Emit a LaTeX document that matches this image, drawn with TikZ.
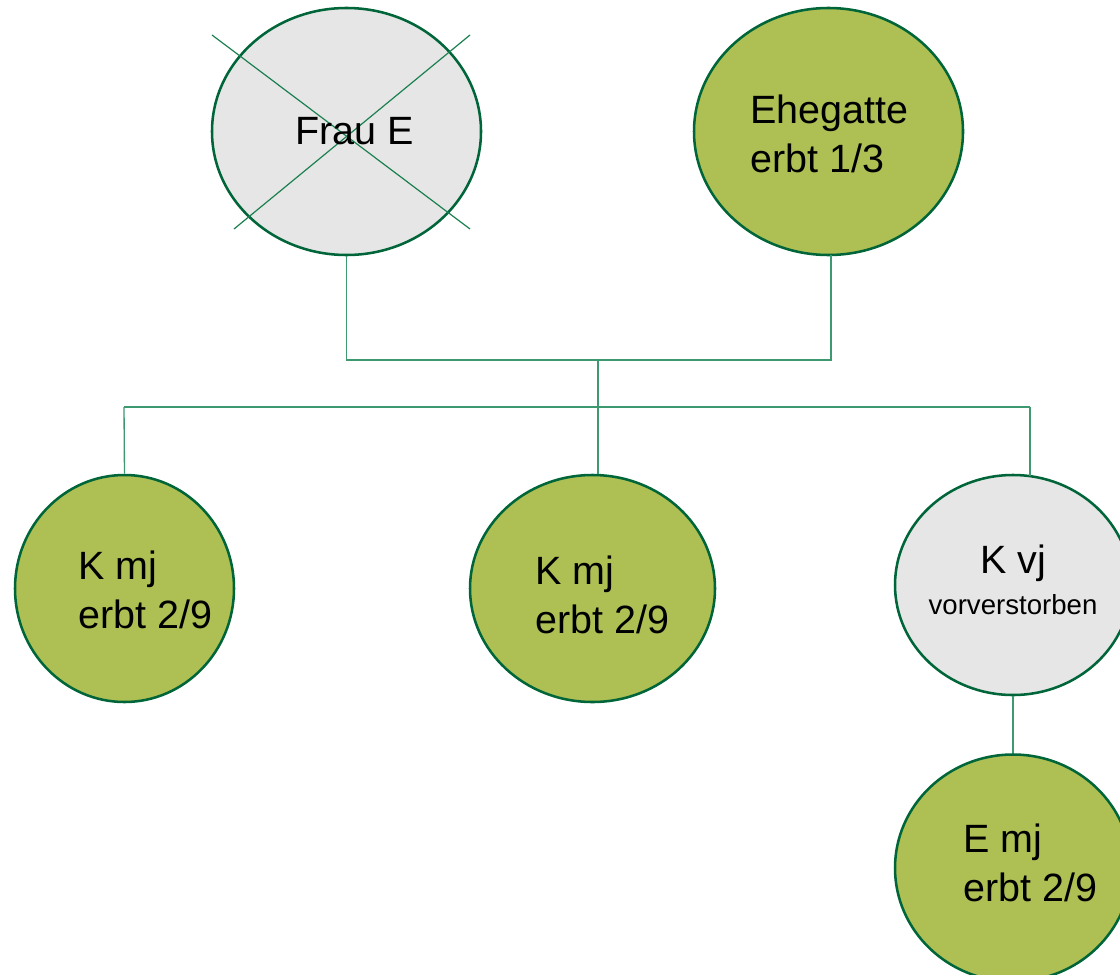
\documentclass[tikz,border=0pt]{standalone}
\usepackage{fontspec}
\setmainfont{Liberation Sans}
\usetikzlibrary{shapes.geometric}
\definecolor{olivefill}{HTML}{AEBF53}
\definecolor{grayfill}{HTML}{E6E6E6}
\definecolor{borderg}{HTML}{00663A}
\definecolor{lineg}{HTML}{3D9970}
\definecolor{crossg}{HTML}{1B8050}
\tikzset{
  pers/.style={ellipse, draw=borderg, line width=1.9pt, inner sep=0pt},
  alive/.style={pers, fill=olivefill},
  dead/.style={pers, fill=grayfill},
  conn/.style={draw=lineg, line width=1pt},
  crossline/.style={draw=crossg, line width=0.9pt},
  big/.style={font=\fontsize{29.6}{36.75}\selectfont, inner sep=0pt, align=left},
  small/.style={font=\fontsize{20.7}{24}\selectfont, inner sep=0pt}
}
\begin{document}
\begin{tikzpicture}[x=0.75pt,y=-0.75pt]
\useasboundingbox[clip] (0,0) rectangle (1120,974);
\fill[white] (0,0) rectangle (1120,974);
% persons
\node[dead, minimum width=201.75pt, minimum height=185.25pt] (fe) at (346.5,131.5) {};
\node[alive, minimum width=201.75pt, minimum height=185.25pt] (eh) at (828.5,131.5) {};
\node[alive, minimum width=164.25pt, minimum height=170.25pt] (c1) at (124.5,588.5) {};
\node[alive, minimum width=183.75pt, minimum height=170.25pt] (c2) at (592.5,588.5) {};
\node[dead, minimum width=177pt, minimum height=165pt] (c3) at (1013,585) {};
\node[alive, minimum width=177pt, minimum height=170.25pt] (e1) at (1013,868) {};
% cross over Frau E
\coordinate (x1) at (212,35);
\coordinate (x2) at (470,229);
\coordinate (x3) at (470,35);
\coordinate (x4) at (234,229);
\draw[crossline] (x1) -- (x2);
\draw[crossline] (x3) -- (x4);
% texts
\node[big] (tfe) at (354.5,131.5) {Frau E};
\node[big, anchor=west] (teh) at (750,134) {Ehegatte\\erbt 1/3};
\node[big, anchor=west] (tc1) at (78,590) {K mj\\erbt 2/9};
\node[big, anchor=west] (tc2) at (535,595) {K mj\\erbt 2/9};
\node[big] (tc3a) at (1013,563) {K vj};
\node[small] (tc3b) at (1013,605) {vorverstorben};
\node[big, anchor=west] (te1) at (963,863) {E mj\\erbt 2/9};
% connectors
\coordinate (j) at (598,360);
\coordinate (bl) at (124,407);
\coordinate (br) at (1030,407);
\coordinate (ehs) at (831,255);
\draw[conn] (fe.south) |- (j) -| (ehs);
\draw[conn] (j) -- (j |- c2.north);
\draw[conn] (bl) -- (br);
\draw[conn] (bl) -- (c1.north);
\draw[conn] (br) -- ++(0,69);
\draw[conn] (c3.south) -- (e1.north);
\end{tikzpicture}
\end{document}
